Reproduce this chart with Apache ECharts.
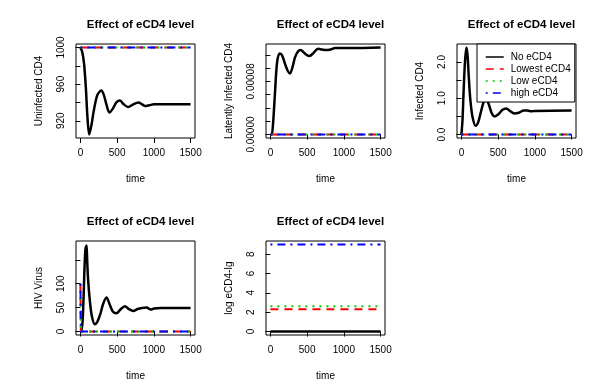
<!DOCTYPE html>
<html>
<head>
<meta charset="utf-8">
<script src="https://cdn.jsdelivr.net/npm/echarts@6/dist/echarts.min.js"></script>
<style>
  html, body { margin: 0; padding: 0; background: #fff; }
  #main { width: 610px; height: 386px; }
</style>
</head>
<body>
<div id="main"></div>
<script>
// legend names, one per eCD4 level
var levelNames = ['No eCD4', 'Lowest eCD4', 'Low eCD4', 'high eCD4'];
var xTicks = [0, 500, 1000, 1500];
var flatTime = [0, 1500];

// panel 1: uninfected CD4
var uninfTime = [0, 25, 50, 75, 95, 120, 150, 180, 230, 285, 320, 350, 395, 440, 490, 540, 590, 650, 720, 790, 840, 880, 940, 1000, 1500];
var uninfNo = [1000, 995, 982, 955, 925, 905, 915, 930, 948, 953, 948, 939, 929, 933, 940, 942, 938, 935, 938, 940, 938, 936, 937, 938, 938];
var uninfLowest = [1000, 1000];
var uninfLow = [1000, 1000];
var uninfHigh = [1000, 1000];
var uninfTicks = [920, 940, 960, 980, 1000];
var uninfLabels = [920, 960, 1000];

// panel 2: latently infected CD4
var latentTime = [0, 18, 35, 50, 65, 80, 100, 130, 160, 200, 235, 267, 300, 335, 375, 412, 450, 490, 530, 580, 650, 700, 760, 820, 880, 1000, 1100, 1500];
var latentNo = [0, 0, 0.000015, 0.00004, 0.000068, 0.000095, 0.000115, 0.000122, 0.000119, 0.000106, 0.000096, 0.000092, 0.000101, 0.000116, 0.000125, 0.000127, 0.000124, 0.00012, 0.000118, 0.000122, 0.000129, 0.000128, 0.000127, 0.000128, 0.00013, 0.00013, 0.00013, 0.000131];
var latentLowest = [0, 0];
var latentLow = [0, 0];
var latentHigh = [0, 0];
var latentTicks = [0, 0.00002, 0.00004, 0.00006, 0.00008, 0.0001, 0.00012];
var latentLabels = [0, 0.00008];

// panel 3: infected CD4
var infTime = [0, 15, 30, 50, 70, 85, 100, 120, 150, 195, 230, 265, 300, 335, 370, 410, 450, 500, 560, 610, 660, 720, 780, 850, 900, 950, 1000, 1500];
var infNo = [0, 0.4, 1.2, 2.05, 2.4, 2.15, 1.6, 1.0, 0.5, 0.24, 0.35, 0.62, 0.88, 0.97, 0.85, 0.6, 0.5, 0.55, 0.68, 0.72, 0.65, 0.58, 0.6, 0.66, 0.66, 0.64, 0.65, 0.66];
var infLowest = [0, 0];
var infLow = [0, 0];
var infHigh = [0, 0];
var infTicks = [0, 0.5, 1, 1.5, 2];
var infLabels = [0, 1, 2];

// panel 4: HIV virus
var virusTime = [0, 15, 30, 45, 55, 65, 72, 78, 84, 92, 105, 130, 155, 195, 230, 270, 310, 355, 400, 440, 490, 545, 605, 660, 720, 780, 840, 900, 960, 1000, 1100, 1500];
var virusNo = [0, 2, 22, 80, 130, 165, 178, 160, 180, 150, 108, 62, 33, 15, 20, 36, 58, 71, 56, 42, 38, 46, 53, 47, 43, 47, 49, 50, 46, 48, 49, 49];
var virusDrugTime = [0, 6, 1500];
var virusLowest = [100, 0, 0];
var virusLow = [100, 0, 0];
var virusHigh = [100, 0, 0];
var virusTicks = [0, 50, 100, 150];
var virusLabels = [0, 50, 100];

// panel 5: log eCD4-Ig
var logNo = [0, 0];
var logLowest = [2.3, 2.3];
var logLow = [2.6, 2.6];
var logHigh = [9.0, 9.0];
var logTicks = [0, 2, 4, 6, 8];

var colors = ['#000000', '#ff0000', '#00cd00', '#0000ff'];
var dashes = ['solid', [8, 6], [2, 5], [2, 5, 8, 5]];
var widths = [2.5, 2, 2, 2];
var fontFamily = 'Liberation Sans, Arial, sans-serif';

function pairs(t, v) {
    return t.map(function (x, i) { return [x, v[i]]; });
}

var panels = [
    { box: [76, 44], yName: 'Uninfected CD4', yMin: 901.2, yMax: 1003.8, ticks: uninfTicks, labels: uninfLabels, digits: 0,
      lines: [pairs(uninfTime, uninfNo), pairs(flatTime, uninfLowest), pairs(flatTime, uninfLow), pairs(flatTime, uninfHigh)] },
    { box: [266, 44], yName: 'Latently Infected CD4', yMin: -0.0000052, yMax: 0.0001362, ticks: latentTicks, labels: latentLabels, digits: 5,
      lines: [pairs(latentTime, latentNo), pairs(flatTime, latentLowest), pairs(flatTime, latentLow), pairs(flatTime, latentHigh)] },
    { box: [457, 44], yName: 'Infected CD4', yMin: -0.096, yMax: 2.496, ticks: infTicks, labels: infLabels, digits: 1,
      lines: [pairs(infTime, infNo), pairs(flatTime, infLowest), pairs(flatTime, infLow), pairs(flatTime, infHigh)] },
    { box: [76, 241], yName: 'HIV Virus', yMin: -7.3, yMax: 189.3, ticks: virusTicks, labels: virusLabels, digits: 0,
      lines: [pairs(virusTime, virusNo), pairs(virusDrugTime, virusLowest), pairs(virusDrugTime, virusLow), pairs(virusDrugTime, virusHigh)] },
    { box: [266, 241], yName: 'log eCD4-Ig', yMin: -0.36, yMax: 9.36, ticks: logTicks, labels: logTicks, digits: 0,
      lines: [pairs(flatTime, logNo), pairs(flatTime, logLowest), pairs(flatTime, logLow), pairs(flatTime, logHigh)] }
];

var boxW = 119, boxH = 94;
var titles = [], grids = [], xAxes = [], yAxes = [], series = [];

panels.forEach(function (p, k) {
    titles.push({
        text: 'Effect of eCD4 level',
        left: p.box[0] + boxW / 2,
        top: p.box[1] - 30,
        textAlign: 'center',
        textStyle: { fontFamily: fontFamily, fontSize: 11.5, fontWeight: 'bold', color: '#000' }
    });
    grids.push({
        left: p.box[0], top: p.box[1], width: boxW, height: boxH,
        show: true, borderColor: '#000', borderWidth: 1, backgroundColor: 'transparent'
    });
    xAxes.push({
        type: 'value', gridIndex: k, min: -60, max: 1560,
        name: 'time', nameLocation: 'middle', nameGap: 36,
        nameTextStyle: { fontFamily: fontFamily, fontSize: 10, color: '#000' },
        axisLine: { show: false },
        splitLine: { show: false },
        axisTick: { show: true, length: 5, customValues: xTicks, lineStyle: { color: '#000' } },
        axisLabel: {
            customValues: xTicks, margin: 10, fontFamily: fontFamily, fontSize: 10, color: '#000',
            formatter: function (v) { return String(v); }
        }
    });
    yAxes.push({
        type: 'value', gridIndex: k, min: p.yMin, max: p.yMax,
        name: p.yName, nameLocation: 'middle', nameGap: 32,
        nameTextStyle: { fontFamily: fontFamily, fontSize: 10, color: '#000' },
        axisLine: { show: false },
        splitLine: { show: false },
        axisTick: { show: true, length: 5, customValues: p.ticks, lineStyle: { color: '#000' } },
        axisLabel: {
            customValues: p.labels, rotate: 90, margin: 10,
            fontFamily: fontFamily, fontSize: 10, color: '#000',
            formatter: (function (d) { return function (v) { return v.toFixed(d); }; })(p.digits)
        }
    });
    p.lines.forEach(function (data, s) {
        series.push({
            type: 'line', name: levelNames[s], xAxisIndex: k, yAxisIndex: k,
            data: data, symbol: 'none', showSymbol: false, smooth: s === 0 ? 0.3 : false,
            animation: false,
            lineStyle: { color: colors[s], width: widths[s], type: dashes[s] },
            itemStyle: { color: colors[s] },
            z: 2 + s
        });
    });
});

var myChart = echarts.init(document.getElementById('main'));
myChart.setOption({
    backgroundColor: '#fff',
    animation: false,
    title: titles,
    grid: grids,
    xAxis: xAxes,
    yAxis: yAxes,
    legend: {
        data: levelNames,
        orient: 'vertical',
        left: 477, top: 44,
        padding: [7, 4, 3, 8],
        itemWidth: 18, itemHeight: 8, itemGap: 0,
        backgroundColor: '#fff',
        borderColor: '#000', borderWidth: 1,
        selectedMode: false,
        itemStyle: { opacity: 0 },
        lineStyle: { width: 1.5 },
        textStyle: { fontFamily: fontFamily, fontSize: 10, color: '#000', lineHeight: 12, padding: [0, 0, 0, 2] }
    },
    series: series
});
</script>
</body>
</html>
